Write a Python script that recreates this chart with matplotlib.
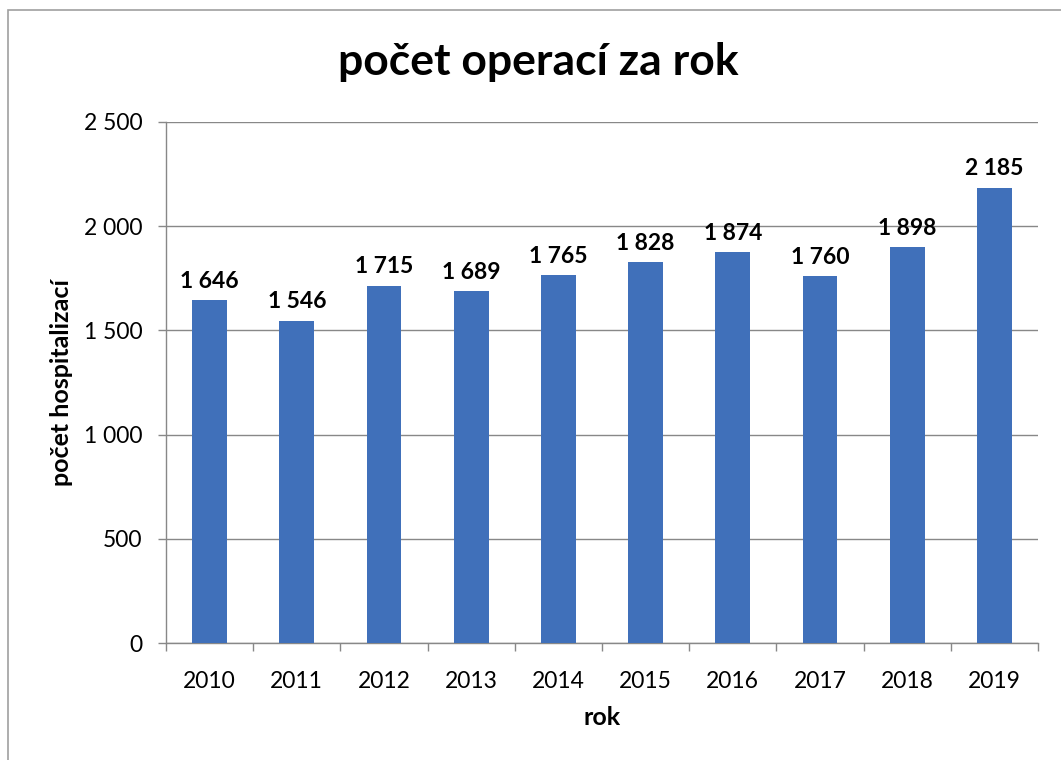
import matplotlib
matplotlib.use('Agg')
import matplotlib.pyplot as plt
from matplotlib.patches import Rectangle

plt.rcParams['font.family'] = ['Lato', 'DejaVu Sans']

# data
years = ['2010', '2011', '2012', '2013', '2014', '2015', '2016', '2017', '2018', '2019']
operace = [1646, 1546, 1715, 1689, 1765, 1828, 1874, 1760, 1898, 2185]
yticks = [0, 500, 1000, 1500, 2000, 2500]

def fmt(v):
    return '{:,}'.format(v).replace(',', ' ')

fig = plt.figure(figsize=(10.61, 7.6), dpi=100)
ax = fig.add_axes([166/1061, 117/760, (1038-166)/1061, (643-122)/760])

# outer chart frame
fig.patches.append(Rectangle((8/1061, -0.1), 2, (750/760) + 0.1, transform=fig.transFigure,
                             fill=False, edgecolor='#a0a0a0', linewidth=1.2))

x = range(len(years))
bars = ax.bar(x, operace, width=0.4, color='#4070BA', zorder=3)
for i, v in enumerate(operace):
    ax.annotate(fmt(v), (i, v), xytext=(0, 6), textcoords='offset points',
                ha='center', va='bottom', fontsize=16.5, fontweight='bold')

ax.set_ylim(0, 2500)
ax.set_xlim(-0.5, len(years) - 0.5)
ax.set_yticks(yticks)
ax.set_yticklabels([fmt(t) for t in yticks], fontsize=16.5)
ax.set_xticks(list(x))
ax.set_xticklabels(years, fontsize=16.5)
ax.set_xticks([i - 0.5 for i in range(len(years) + 1)], minor=True)
ax.tick_params(axis='x', which='major', length=0, pad=20)
ax.tick_params(axis='x', which='minor', length=6, color='#888888', width=1)
ax.tick_params(axis='y', length=6, color='#888888', width=1, pad=11)
ax.grid(axis='y', color='#888888', linewidth=1, zorder=0)
for s in ['top', 'right']:
    ax.spines[s].set_visible(False)
for s in ['left', 'bottom']:
    ax.spines[s].set_color('#888888')
    ax.spines[s].set_linewidth(1)

ax.set_xlabel('rok', fontsize=18, fontweight='bold', labelpad=10)
ax.set_ylabel('počet hospitalizací', fontsize=18, fontweight='bold', labelpad=8)
fig.text(538/1061, 1 - 62/760, 'počet operací za rok', ha='center', va='center',
         fontsize=32, fontweight='bold')

fig.savefig('out.png', dpi=100)
